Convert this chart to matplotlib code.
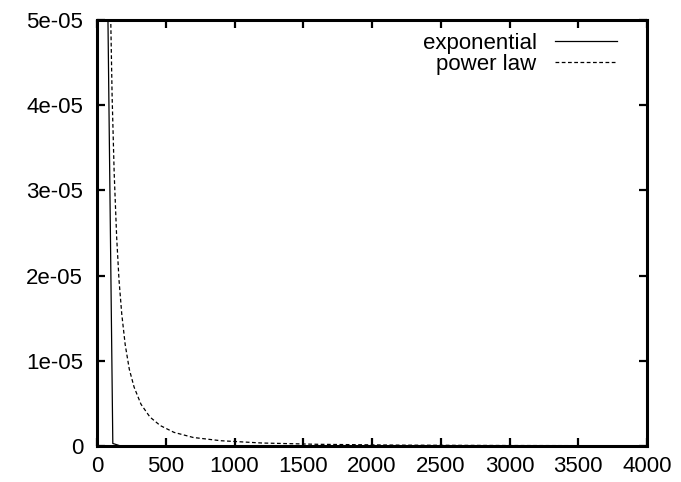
import matplotlib
matplotlib.use("Agg")
import matplotlib.pyplot as plt
from matplotlib.ticker import FuncFormatter

plt.rcParams['font.family'] = ['Liberation Sans', 'DejaVu Sans']

# exponential
x_exp = [57, 115, 172, 230, 500, 1000, 2000, 3000, 4000]
y_exp = [8.2e-5, 3e-7, 1e-9, 0, 0, 0, 0, 0, 0]

# power law
x_pow = [90, 100, 110, 125, 143, 160, 180, 205, 235, 270, 320, 385, 460,
         560, 700, 900, 1200, 1600, 2200, 3000, 4000]
y_pow = [6.2e-5, 5.0e-5, 4.1e-5, 3.2e-5, 2.45e-5, 1.95e-5, 1.55e-5, 1.19e-5,
         9.0e-6, 6.9e-6, 4.9e-6, 3.4e-6, 2.4e-6, 1.6e-6, 1.0e-6, 6.2e-7,
         3.5e-7, 2.0e-7, 1.0e-7, 5.6e-8, 3.1e-8]

x_ticks = [0, 500, 1000, 1500, 2000, 2500, 3000, 3500, 4000]
y_ticks = [0, 1e-5, 2e-5, 3e-5, 4e-5, 5e-5]

fig = plt.figure(figsize=(6.81, 4.82), dpi=100)
ax = fig.add_axes([97/681, 1-446/482, 550/681, 426/482])

ax.plot(x_exp, y_exp, color="black", lw=0.9, label="exponential")
ax.plot(x_pow, y_pow, color="black", lw=0.9, dashes=(3, 2), label="power law")

ax.set_xlim(0, 4000)
ax.set_ylim(0, 5e-5)
ax.set_xticks(x_ticks)
ax.set_yticks(y_ticks)
ax.yaxis.set_major_formatter(FuncFormatter(lambda v, p: "%g" % v))

for s in ax.spines.values():
    s.set_linewidth(2.2)
ax.tick_params(direction="in", length=6, width=1.6, labelsize=16,
               top=True, right=True)
ax.tick_params(axis="x", pad=7)
ax.tick_params(axis="y", pad=10)

ax.legend(loc="upper right", bbox_to_anchor=(0.945, 0.97), frameon=False,
          markerfirst=False, fontsize=16, handlelength=2.8,
          handletextpad=0.8, labelspacing=0.0, borderpad=0, borderaxespad=0)

fig.savefig("out.png", dpi=100)
